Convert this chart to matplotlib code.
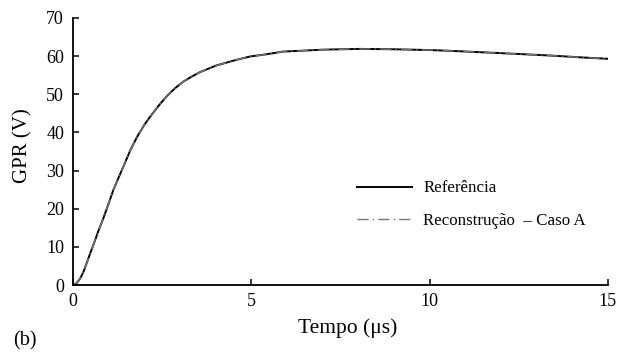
import matplotlib
matplotlib.use("Agg")
import matplotlib.pyplot as plt

# Time (microseconds)
t_us = [0.0, 0.1, 0.2, 0.3, 0.38, 0.47, 0.57, 0.7, 0.85, 1.0, 1.13, 1.27, 1.41, 1.6,
        1.8, 2.0, 2.16, 2.4, 2.62, 2.85, 3.09, 3.3, 3.56, 4.0, 4.49, 4.96, 5.43,
        5.89, 6.36, 7.0, 8.04, 9.0, 10.0, 10.56, 11.5, 12.43, 13.5, 14.2, 15.0]
# GPR reference (V)
gpr_ref = [0.0, 0.5, 1.7, 3.6, 5.7, 8.0, 10.5, 13.9, 17.5, 21.4, 24.9, 28.0, 31.0, 35.2,
           38.9, 42.0, 44.1, 47.0, 49.4, 51.5, 53.3, 54.5, 55.8, 57.5, 58.8, 59.9, 60.5,
           61.2, 61.4, 61.7, 61.9, 61.8, 61.6, 61.4, 61.0, 60.6, 60.1, 59.7, 59.3]
# GPR reconstruction - Caso A (V)
gpr_rec = [0.0, 0.5, 1.7, 3.6, 5.7, 8.0, 10.5, 13.9, 17.5, 21.4, 24.9, 28.0, 31.0, 35.2,
           38.9, 42.0, 44.1, 47.0, 49.4, 51.5, 53.3, 54.5, 55.8, 57.5, 58.8, 59.9, 60.5,
           61.2, 61.4, 61.7, 61.9, 61.8, 61.6, 61.4, 61.0, 60.6, 60.1, 59.7, 59.3]

x_ticks = [0, 5, 10, 15]
y_ticks = [0, 10, 20, 30, 40, 50, 60, 70]

plt.rcParams['font.family'] = ['Liberation Serif', 'DejaVu Serif']

fig = plt.figure(figsize=(6.21, 3.60), dpi=100)
ax = fig.add_axes([0.1176, 0.2083, 0.8614, 0.7417])

ax.plot(t_us, gpr_ref, color='black', lw=1.4, label='Referência')
ax.plot(t_us, gpr_rec, color='#777777', lw=1.0, linestyle=(0, (8, 3, 1, 3)),
        label='Reconstrução  – Caso A')

ax.set_xlim(0, 15)
ax.set_ylim(0, 70)
ax.set_xticks(x_ticks)
ax.set_yticks(y_ticks)
ax.spines['top'].set_visible(False)
ax.spines['right'].set_visible(False)
for s in ['left', 'bottom']:
    ax.spines[s].set_linewidth(1.3)
ax.tick_params(direction='in', length=4, width=1.1, labelsize=13)
ax.tick_params(axis='x', pad=5.5)
ax.tick_params(axis='y', pad=6.5)

ax.set_xlabel('Tempo (μs)', fontsize=15.5)
ax.set_ylabel('GPR (V)', fontsize=15)
ax.xaxis.set_label_coords(0.513, -0.124)
ax.yaxis.set_label_coords(-0.075, 0.522)

leg = ax.legend(loc='center left', bbox_to_anchor=(0.503, 0.300), frameon=False,
                fontsize=12.2, handlelength=3.25, handletextpad=0.65, labelspacing=1.0)

fig.text(0.021, 0.053, '(b)', fontsize=14.5, va='center')

fig.savefig('out.png', dpi=100)
